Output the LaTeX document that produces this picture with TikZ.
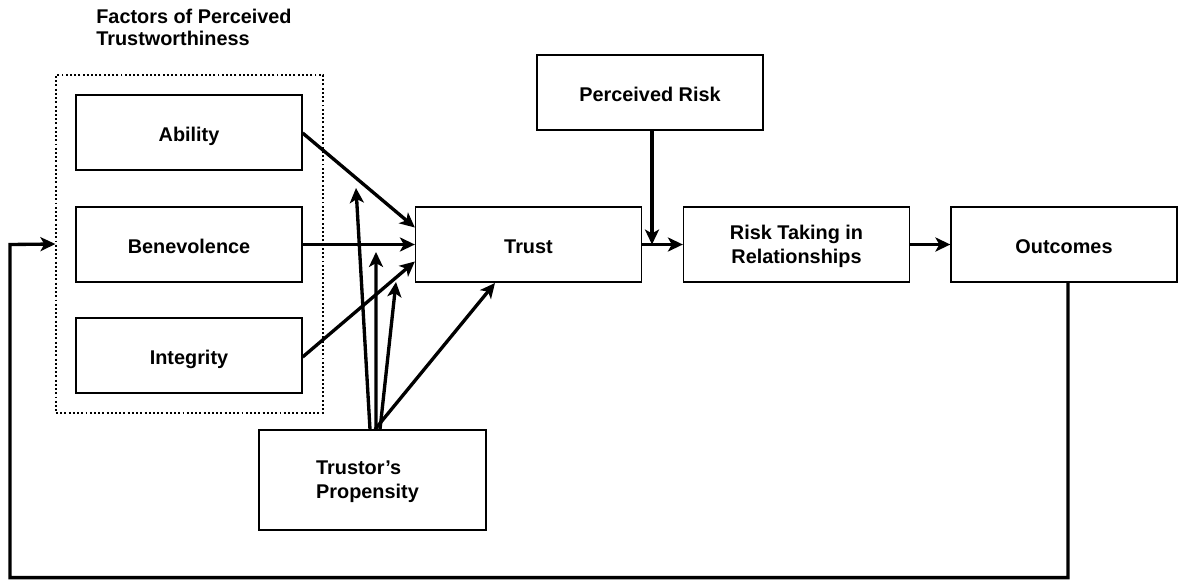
\documentclass[tikz,border=0pt]{standalone}
\usepackage{fontspec}
\setmainfont{Liberation Sans}
\usetikzlibrary{arrows.meta}
% box label: a one-column table lowered inside its own frame
\newcommand\boxlabel[3][c]{\raisebox{-#2}[\height][\depth]{\begin{tabular}{@{}#1@{}}#3\end{tabular}}}
\begin{document}
\begin{tikzpicture}[x=0.02cm,y=-0.02cm,
  every node/.style={font=\bfseries\fontsize{11.3}{13.6}\selectfont},
  box/.style={draw,line width=0.75pt,minimum width=4.52cm,minimum height=1.5cm,inner sep=0pt},
  group/.style={draw,line width=0.75pt,dash pattern=on 1.1pt off 1.3pt},
  arr/.style={line width=1.9pt,-{Stealth[length=8.5pt,width=8pt,inset=2.2pt]}}]
\useasboundingbox (0,0) rectangle (1178,579);

% grouping frame and its heading
\node[group,minimum width=5.34cm,minimum height=6.76cm,inner sep=0pt] (grp) at (189.5,244) {};
\node[anchor=north west,align=left,inner sep=0pt,font=\bfseries\fontsize{11.3}{12.6}\selectfont] (ttl) at (96,9) {Factors of Perceived\\Trustworthiness};

% factor boxes
\node[box] (abil) at (189,132.5) {\boxlabel{2.3pt}{Ability}};
\node[box] (bene) at (189,244.5) {\boxlabel{2.3pt}{Benevolence}};
\node[box] (integ) at (189,355.5) {\boxlabel{2.3pt}{Integrity}};

% main chain
\node[box] (trust) at (528.5,244.5) {\boxlabel{2.3pt}{Trust}};
\node[box] (risk) at (650,92.5) {\boxlabel{2.3pt}{Perceived Risk}};
\node[box] (rtake) at (796.5,244.5) {\boxlabel{1.2pt}{Risk Taking in\\Relationships}};
\node[box] (out) at (1064,244.5) {\boxlabel{2.3pt}{Outcomes}};
\node[box,minimum width=4.54cm,minimum height=2.0cm] (prop) at (372.5,480) {\hspace*{-0.2cm}\boxlabel[l]{1.2pt}{Trustor's\\Propensity}};

% free ends of the propensity arrows
\coordinate (p1) at (356,188);
\coordinate (p2) at (376,252);
\coordinate (p3) at (396,282);
\coordinate (p4) at (495,283);
\coordinate (rj) at (652,244.5);

% factors to trust
\draw[arr] (abil.east |- 0,133) -- ([yshift=0.34cm]trust.west);
\draw[arr] (bene.east) -- (trust.west);
\draw[arr] (integ.east |- 0,357) -- ([yshift=-0.34cm]trust.west);

% propensity arrows
\draw[arr] ([xshift=-0.05cm]prop.north) -- (p1);
\draw[arr] ([xshift=0.07cm]prop.north) -- (p2);
\draw[arr] ([xshift=0.15cm]prop.north) -- (p3);
\draw[arr] ([xshift=0.05cm]prop.north) -- (p4);

% chain arrows
\draw[arr] (risk.south -| rj) -- (rj);
\draw[arr] (trust.east) -- (rtake.west);
\draw[arr] (rtake.east) -- (out.west);

% feedback loop
\draw[arr] ([xshift=0.08cm]out.south) -- ++(0,295) -| (10,244.5) -- (grp.west);
\end{tikzpicture}
\end{document}
